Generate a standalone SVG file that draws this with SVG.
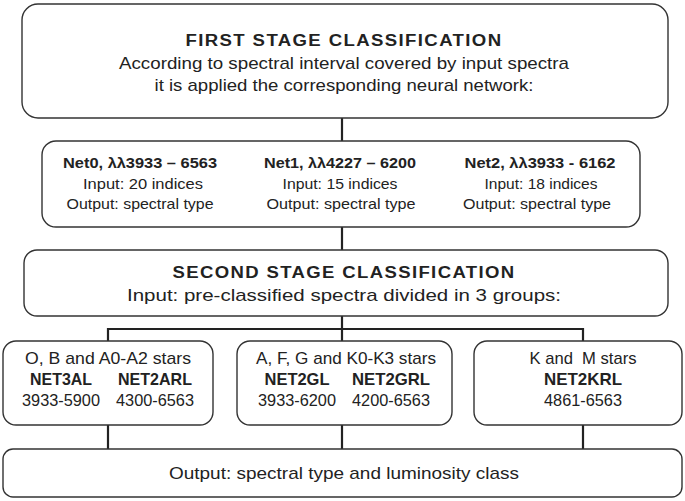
<svg xmlns="http://www.w3.org/2000/svg" width="685" height="501" viewBox="0 0 685 501">
<style>
.box{fill:#fff;stroke:#333;stroke-width:1.4}
.t{font-family:"Liberation Sans",Arial,sans-serif;font-size:17px;fill:#222;text-anchor:middle}
.b{font-weight:bold}
.h{font-weight:bold;font-size:16px;letter-spacing:1.2px}
.s{font-size:14.5px}
.c{stroke:#222;stroke-width:2.2;fill:none}
</style>
<rect width="685" height="501" fill="#fff"/>
<g id="connectors">
<path class="c" d="M342 118V141M342 227V250M342 316V329M108 341V329H583V341M342 329V341M108 425V449M342 425V449M583 425V449"/>
</g>
<g id="first-stage">
<rect class="box" x="22" y="4" width="646" height="114" rx="16"/>
<text class="t h" x="344" y="46" textLength="317" lengthAdjust="spacingAndGlyphs">FIRST STAGE CLASSIFICATION</text>
<text class="t" x="344" y="69" textLength="450" lengthAdjust="spacingAndGlyphs">According to spectral interval covered by input spectra</text>
<text class="t" x="344" y="91" textLength="379" lengthAdjust="spacingAndGlyphs">it is applied the corresponding neural network:</text>
</g>
<g id="networks">
<rect class="box" x="42" y="141" width="598" height="86" rx="14"/>
<text class="t s b" x="140" y="168" textLength="154" lengthAdjust="spacingAndGlyphs">Net0, λλ3933 – 6563</text>
<text class="t s" x="143" y="189" textLength="120" lengthAdjust="spacingAndGlyphs">Input: 20 indices</text>
<text class="t s" x="140" y="209" textLength="147" lengthAdjust="spacingAndGlyphs">Output: spectral type</text>
<text class="t s b" x="340" y="168" textLength="152" lengthAdjust="spacingAndGlyphs">Net1, λλ4227 – 6200</text>
<text class="t s" x="340" y="189" textLength="115" lengthAdjust="spacingAndGlyphs">Input: 15 indices</text>
<text class="t s" x="341" y="209" textLength="149" lengthAdjust="spacingAndGlyphs">Output: spectral type</text>
<text class="t s b" x="540" y="168" textLength="151" lengthAdjust="spacingAndGlyphs">Net2, λλ3933 - 6162</text>
<text class="t s" x="541" y="189" textLength="113" lengthAdjust="spacingAndGlyphs">Input: 18 indices</text>
<text class="t s" x="537" y="209" textLength="148" lengthAdjust="spacingAndGlyphs">Output: spectral type</text>
</g>
<g id="second-stage">
<rect class="box" x="24" y="250" width="644" height="66" rx="13"/>
<text class="t h" x="344" y="278" textLength="343" lengthAdjust="spacingAndGlyphs">SECOND STAGE CLASSIFICATION</text>
<text class="t" x="344" y="301" textLength="434" lengthAdjust="spacingAndGlyphs">Input: pre-classified spectra divided in 3 groups:</text>
</g>
<g id="group-obA">
<rect class="box" x="3" y="341" width="210" height="84" rx="13"/>
<text class="t" x="108" y="364" textLength="166" lengthAdjust="spacingAndGlyphs">O, B and A0-A2 stars</text>
<text class="t b" x="61" y="385" textLength="62" lengthAdjust="spacingAndGlyphs">NET3AL</text>
<text class="t b" x="155" y="385" textLength="74" lengthAdjust="spacingAndGlyphs">NET2ARL</text>
<text class="t" x="61" y="406" textLength="78" lengthAdjust="spacingAndGlyphs">3933-5900</text>
<text class="t" x="155" y="406" textLength="78" lengthAdjust="spacingAndGlyphs">4300-6563</text>
</g>
<g id="group-afgk">
<rect class="box" x="237" y="341" width="215" height="84" rx="13"/>
<text class="t" x="346" y="364" textLength="180" lengthAdjust="spacingAndGlyphs">A, F, G and K0-K3 stars</text>
<text class="t b" x="297" y="385" textLength="65" lengthAdjust="spacingAndGlyphs">NET2GL</text>
<text class="t b" x="391" y="385" textLength="78" lengthAdjust="spacingAndGlyphs">NET2GRL</text>
<text class="t" x="297" y="406" textLength="78" lengthAdjust="spacingAndGlyphs">3933-6200</text>
<text class="t" x="391" y="406" textLength="78" lengthAdjust="spacingAndGlyphs">4200-6563</text>
</g>
<g id="group-km">
<rect class="box" x="474" y="341" width="208" height="84" rx="13"/>
<text class="t" x="583" y="364" textLength="107" lengthAdjust="spacingAndGlyphs" xml:space="preserve">K and  M stars</text>
<text class="t b" x="583" y="385" textLength="78" lengthAdjust="spacingAndGlyphs">NET2KRL</text>
<text class="t" x="583" y="406" textLength="78" lengthAdjust="spacingAndGlyphs">4861-6563</text>
</g>
<g id="output">
<rect class="box" x="3" y="449" width="679" height="48" rx="10"/>
<text class="t" x="344" y="479" textLength="350" lengthAdjust="spacingAndGlyphs">Output: spectral type and luminosity class</text>
</g>
</svg>
